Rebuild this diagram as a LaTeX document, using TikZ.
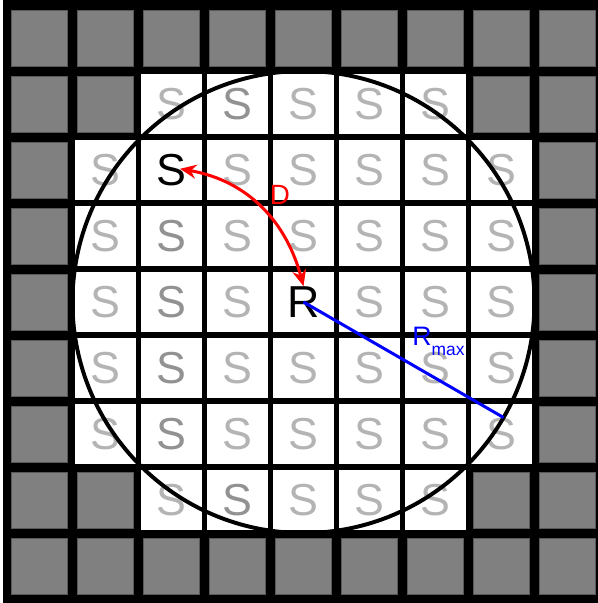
\documentclass[tikz,border=0pt]{standalone}
\usepackage{fontspec}
\setmainfont{Liberation Sans}
\usetikzlibrary{arrows.meta}
\definecolor{lightS}{HTML}{B4B4B4}
\definecolor{darkS}{HTML}{929292}
\definecolor{cellgray}{HTML}{808080}
\tikzset{
    graycell/.style = {fill = cellgray, draw = black!65, line width = 0.3pt},
    whitecell/.style = {fill = white},
    letter/.style = {font = \fontsize{19.3}{22}\selectfont, inner sep = 0pt},
    redarc/.style = {draw = red, line width = 1.3pt, {Stealth[length=7pt,width=6pt]}-{Stealth[length=7pt,width=6pt]}},
    bluerad/.style = {draw = blue, line width = 1.3pt}
}
\begin{document}
\begin{tikzpicture}
    \clip (-0.098,-0.06) rectangle (8.962,9.076);
    % black background gives the grid lines
    \fill[black] (-0.053,-0.5) rectangle (9.5,9.5);
    % gray border cells
    \foreach \c in {0,...,8} {
        \filldraw[graycell] (\c+0.075,8.075) rectangle (\c+0.925,8.925);
        \filldraw[graycell] (\c+0.075,0.075) rectangle (\c+0.925,0.925);
    }
    \foreach \c in {0,1,7,8} {
        \filldraw[graycell] (\c+0.075,7.075) rectangle (\c+0.925,7.925);
        \filldraw[graycell] (\c+0.075,1.075) rectangle (\c+0.925,1.925);
    }
    \foreach \r in {2,...,6} {
        \filldraw[graycell] (0.075,\r+0.075) rectangle (0.925,\r+0.925);
        \filldraw[graycell] (8.075,\r+0.075) rectangle (8.925,\r+0.925);
    }
    % white cells
    \foreach \c in {2,...,6} {
        \fill[whitecell] (\c+0.04,7.04) rectangle (\c+0.96,7.96);
        \fill[whitecell] (\c+0.04,1.04) rectangle (\c+0.96,1.96);
    }
    \foreach \c in {1,...,7} {
        \foreach \r in {2,...,6} {
            \fill[whitecell] (\c+0.04,\r+0.04) rectangle (\c+0.96,\r+0.96);
        }
    }
    % letters
    \foreach \c in {2,4,5,6} {
        \node[letter, text = lightS] (s-\c-7) at (\c+0.5,7.5) {S};
        \node[letter, text = lightS] (s-\c-1) at (\c+0.5,1.5) {S};
    }
    \node[letter, text = darkS] (s-3-7) at (3.5,7.5) {S};
    \node[letter, text = darkS] (s-3-1) at (3.5,1.5) {S};
    \foreach \r in {2,...,6} {
        \node[letter, text = lightS] (s-1-\r) at (1.5,\r+0.5) {S};
        \node[letter, text = lightS] (s-3-\r) at (3.5,\r+0.5) {S};
        \node[letter, text = lightS] (s-5-\r) at (5.5,\r+0.5) {S};
        \node[letter, text = lightS] (s-6-\r) at (6.5,\r+0.5) {S};
        \node[letter, text = lightS] (s-7-\r) at (7.5,\r+0.5) {S};
    }
    \foreach \r in {2,...,5} {
        \node[letter, text = darkS] (s-2-\r) at (2.5,\r+0.5) {S};
    }
    \foreach \r in {2,3,5,6} {
        \node[letter, text = lightS] (s-4-\r) at (4.5,\r+0.5) {S};
    }
    \node[letter] (s) at (2.5,6.5) {S};
    \node[letter] (r) at (4.5,4.5) {R};
    % search circle
    \draw[line width = 1.7pt] (4.5,4.5) circle (3.5);
    % distance and radius
    \coordinate (rmaxend) at (7.531,2.75);
    \draw[bluerad] (r.center) -- (rmaxend);
    \draw[redarc, shorten <= -3pt] (s.east) to[out=-10, in=105] (r.north);
    \node[text = red, font = \fontsize{12}{14}\selectfont, inner sep = 0pt] (dlabel) at (4.144,6.121) {D};
    \node[text = blue, font = \fontsize{11.5}{14}\selectfont, inner sep = 0pt, anchor = base west] (rmax) at (6.144,3.848) {R\raisebox{-4.3pt}{\fontsize{7.5}{9}\selectfont max}};
\end{tikzpicture}
\end{document}
